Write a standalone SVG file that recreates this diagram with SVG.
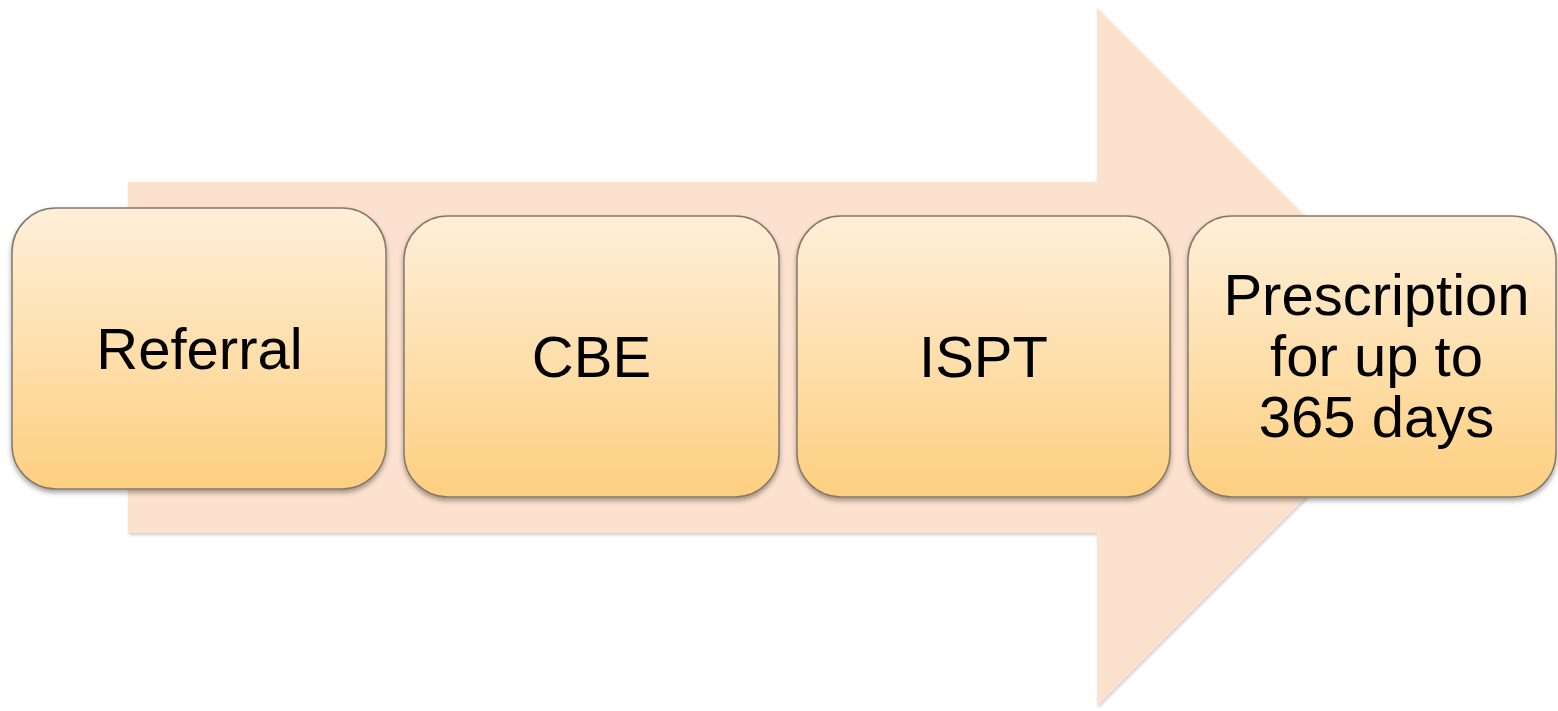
<svg xmlns="http://www.w3.org/2000/svg" width="1558" height="711" viewBox="0 0 1558 711">
<defs>
<linearGradient id="boxGrad" x1="0" y1="0" x2="0" y2="1">
<stop offset="0" stop-color="#feefd9"/>
<stop offset="1" stop-color="#fecf80"/>
</linearGradient>
<filter id="shadow" x="-10%" y="-10%" width="120%" height="125%">
<feDropShadow dx="0" dy="3" stdDeviation="2.5" flood-color="#000" flood-opacity="0.35"/>
</filter>
<filter id="ashadow" x="-5%" y="-5%" width="110%" height="110%">
<feDropShadow dx="1" dy="2" stdDeviation="1.5" flood-color="#000" flood-opacity="0.2"/>
</filter>
</defs>
<style>
.box { fill: url(#boxGrad); stroke: #857a6b; stroke-width: 1.5; filter: url(#shadow); }
.lbl { font-family: "Liberation Sans", Arial, sans-serif; font-size: 58px; fill: #000; text-anchor: middle; }
</style>
<rect width="1558" height="711" fill="#ffffff"/>
<g id="arrow">
<polygon points="128,182 1097,182 1097,8 1446,357 1097,706 1097,533 128,533" fill="#fde1cf" filter="url(#ashadow)"/>
</g>
<g id="connectors"></g>
<g id="node-referral">
<rect class="box" x="12" y="208" width="374" height="281" rx="44" ry="44"/>
<text class="lbl" x="199.5" y="369">Referral</text>
</g>
<g id="node-cbe">
<rect class="box" x="404" y="216" width="375" height="281" rx="44" ry="44"/>
<text class="lbl" x="591.5" y="377">CBE</text>
</g>
<g id="node-ispt">
<rect class="box" x="797" y="216" width="373" height="281" rx="44" ry="44"/>
<text class="lbl" x="983.5" y="377">ISPT</text>
</g>
<g id="node-prescription">
<rect class="box" x="1188" y="216" width="368" height="281" rx="44" ry="44"/>
<text class="lbl" x="1376.5" y="315">Prescription</text>
<text class="lbl" x="1376.5" y="376">for up to</text>
<text class="lbl" x="1376.5" y="437">365 days</text>
</g>
</svg>
